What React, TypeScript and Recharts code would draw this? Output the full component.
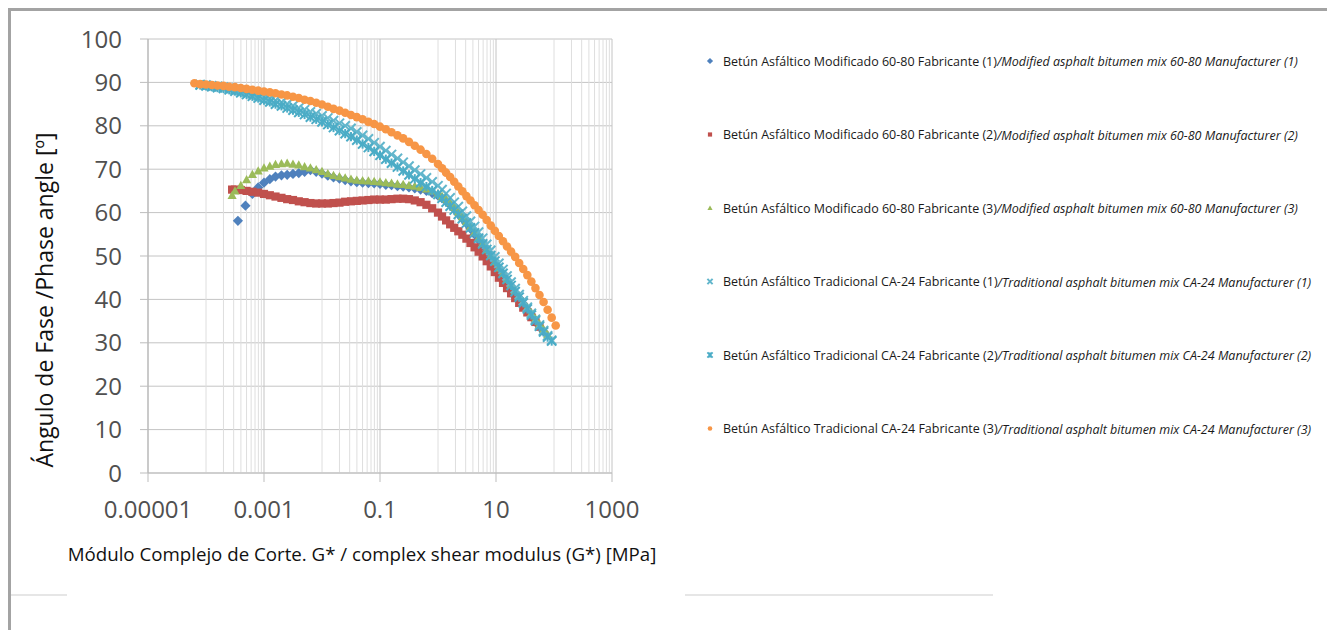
import React from "react";
import { CartesianGrid, ReferenceLine, Scatter, ScatterChart, XAxis, YAxis } from "recharts";

// [G* (MPa), phase angle (deg)]
const mod1 = [[3.55e-4,58.1],[4.79e-4,61.6],[6.31e-4,64.3],[7.94e-4,65.8],[1e-3,66.9],[1.26e-3,67.7],[1.58e-3,68.3],[2e-3,68.6],[2.51e-3,68.7],[3.16e-3,68.9],[3.98e-3,69.1],[5.01e-3,69.4],[6.31e-3,69.8],[7.94e-3,69.4],[0.01,69.0],[0.0126,68.5],[0.0158,68.1],[0.02,67.8],[0.0251,67.5],[0.0316,67.2],[0.0398,67.0],[0.0501,66.9],[0.0631,66.8],[0.0794,66.7],[0.1,66.6],[0.126,66.4],[0.158,66.3],[0.2,66.1],[0.251,66.0],[0.316,65.8],[0.398,65.6],[0.501,65.3],[0.631,65.0],[0.794,64.5],[1,63.9],[1.175,63.3],[1.38,62.6],[1.62,61.8],[1.905,60.8],[2.24,59.7],[2.63,58.6],[3.09,57.5],[3.63,56.3],[4.27,55.0],[5.01,53.7],[5.89,52.4],[6.92,51.0],[8.13,49.6],[9.55,48.2],[11.2,46.8],[13.2,45.5],[15.5,44.2],[18.2,42.9],[21.4,41.6],[25.1,40.3],[29.5,39.0],[34.7,37.7],[40.7,36.4],[47.9,35.1],[56.2,33.8],[66.1,32.6]];
const mod2 = [[2.82e-4,65.3],[3.16e-4,65.3],[3.98e-4,65.2],[5.01e-4,65.0],[6.31e-4,64.8],[7.94e-4,64.6],[1e-3,64.3],[1.26e-3,64.0],[1.58e-3,63.7],[2e-3,63.4],[2.51e-3,63.1],[3.16e-3,62.9],[3.98e-3,62.6],[5.01e-3,62.4],[6.31e-3,62.2],[7.94e-3,62.1],[0.01,62.1],[0.0126,62.1],[0.0158,62.2],[0.02,62.3],[0.0251,62.5],[0.0316,62.6],[0.0398,62.7],[0.0501,62.8],[0.0631,62.9],[0.0794,63.0],[0.1,63.0],[0.126,63.0],[0.158,63.1],[0.2,63.2],[0.251,63.2],[0.316,63.1],[0.398,62.8],[0.501,62.4],[0.631,61.8],[0.794,61.0],[1,60.0],[1.175,59.1],[1.38,58.2],[1.62,57.3],[1.905,56.5],[2.24,55.7],[2.63,54.9],[3.09,54.0],[3.63,53.0],[4.27,52.0],[5.01,51.0],[5.89,49.9],[6.92,48.8],[8.13,47.6],[9.55,46.3],[11.2,45.0],[13.2,43.8],[15.5,42.6],[18.2,41.4],[21.4,40.3],[25.1,39.2],[29.5,38.1],[34.7,37.0],[40.7,35.9],[47.9,34.8],[56.2,33.7]];
const mod3 = [[2.82e-4,64.0],[3.16e-4,65.0],[3.98e-4,66.3],[5.01e-4,67.6],[6.31e-4,68.8],[7.94e-4,69.6],[1e-3,70.3],[1.26e-3,70.7],[1.58e-3,71.1],[2e-3,71.3],[2.51e-3,71.4],[3.16e-3,71.2],[3.98e-3,71.0],[5.01e-3,70.6],[6.31e-3,70.3],[7.94e-3,69.9],[0.01,69.5],[0.0126,69.0],[0.0158,68.6],[0.02,68.3],[0.0251,68.0],[0.0316,67.7],[0.0398,67.5],[0.0501,67.4],[0.0631,67.3],[0.0794,67.2],[0.1,67.1],[0.126,66.9],[0.158,66.8],[0.2,66.6],[0.251,66.5],[0.316,66.3],[0.398,66.1],[0.501,65.8],[0.631,65.5],[0.794,65.0],[1,64.4],[1.175,63.8],[1.38,63.1],[1.62,62.3],[1.905,61.3],[2.24,60.2],[2.63,59.1],[3.09,58.0],[3.63,56.8],[4.27,55.5],[5.01,54.2],[5.89,52.9],[6.92,51.5],[8.13,50.1],[9.55,48.7],[11.2,47.3],[13.2,46.0],[15.5,44.7],[18.2,43.4],[21.4,42.1],[25.1,40.8],[29.5,39.5],[34.7,38.2],[40.7,36.9],[47.9,35.6],[56.2,34.3],[66.1,33.1],[77.6,31.9]];
const trad1 = [[7.94e-5,89.5],[1e-4,89.4],[1.26e-4,89.2],[1.58e-4,89.1],[2e-4,88.9],[2.51e-4,88.7],[3.16e-4,88.4],[3.98e-4,88.1],[5.01e-4,87.8],[6.31e-4,87.4],[7.94e-4,87.0],[1e-3,86.6],[1.26e-3,86.2],[1.58e-3,85.8],[2e-3,85.4],[2.51e-3,85.0],[3.16e-3,84.6],[3.98e-3,84.1],[5.01e-3,83.7],[6.31e-3,83.2],[7.94e-3,82.8],[0.01,82.3],[0.0126,81.8],[0.0158,81.2],[0.02,80.6],[0.0251,80.0],[0.0316,79.4],[0.0398,78.6],[0.0501,77.8],[0.0631,77.0],[0.0794,76.1],[0.1,75.2],[0.126,74.3],[0.158,73.4],[0.2,72.5],[0.251,71.6],[0.316,70.7],[0.398,69.8],[0.501,68.9],[0.631,68.0],[0.794,67.1],[1,66.2],[1.175,65.3],[1.38,64.4],[1.62,63.4],[1.905,62.4],[2.24,61.4],[2.63,60.3],[3.09,59.2],[3.63,58.0],[4.27,56.8],[5.01,55.5],[5.89,54.1],[6.92,52.7],[8.13,51.3],[9.55,49.8],[11.2,48.3],[13.2,46.9],[15.5,45.4],[18.2,44.0],[21.4,42.5],[25.1,41.1],[29.5,39.7],[34.7,38.2],[40.7,36.8],[47.9,35.4],[56.2,34.1],[66.1,32.8],[77.6,31.6],[91.2,30.6]];
const trad2 = [[7.94e-5,89.4],[1e-4,89.2],[1.26e-4,89.0],[1.58e-4,88.8],[2e-4,88.6],[2.51e-4,88.3],[3.16e-4,88.0],[3.98e-4,87.6],[5.01e-4,87.2],[6.31e-4,86.8],[7.94e-4,86.4],[1e-3,85.9],[1.26e-3,85.5],[1.58e-3,85.0],[2e-3,84.6],[2.51e-3,84.1],[3.16e-3,83.6],[3.98e-3,83.1],[5.01e-3,82.6],[6.31e-3,82.0],[7.94e-3,81.5],[0.01,80.9],[0.0126,80.3],[0.0158,79.6],[0.02,78.9],[0.0251,78.2],[0.0316,77.5],[0.0398,76.7],[0.0501,75.8],[0.0631,75.0],[0.0794,74.1],[0.1,73.2],[0.126,72.3],[0.158,71.4],[0.2,70.5],[0.251,69.6],[0.316,68.7],[0.398,67.8],[0.501,66.9],[0.631,66.0],[0.794,65.1],[1,64.2],[1.175,63.3],[1.38,62.4],[1.62,61.5],[1.905,60.6],[2.24,59.6],[2.63,58.6],[3.09,57.6],[3.63,56.5],[4.27,55.3],[5.01,54.1],[5.89,52.8],[6.92,51.5],[8.13,50.1],[9.55,48.8],[11.2,47.4],[13.2,46.0],[15.5,44.6],[18.2,43.2],[21.4,41.8],[25.1,40.5],[29.5,39.2],[34.7,37.8],[40.7,36.4],[47.9,35.1],[56.2,33.8],[66.1,32.5],[77.6,31.3],[91.2,30.4]];
const trad3 = [[6.31e-5,89.8],[7.94e-5,89.6],[1e-4,89.5],[1.26e-4,89.4],[1.58e-4,89.3],[2e-4,89.2],[2.51e-4,89.0],[3.16e-4,88.9],[3.98e-4,88.7],[5.01e-4,88.5],[6.31e-4,88.3],[7.94e-4,88.1],[1e-3,87.9],[1.26e-3,87.7],[1.58e-3,87.5],[2e-3,87.2],[2.51e-3,87.0],[3.16e-3,86.7],[3.98e-3,86.4],[5.01e-3,86.0],[6.31e-3,85.7],[7.94e-3,85.3],[0.01,84.9],[0.0126,84.4],[0.0158,83.9],[0.02,83.5],[0.0251,83.0],[0.0316,82.5],[0.0398,82.0],[0.0501,81.5],[0.0631,80.9],[0.0794,80.4],[0.1,79.8],[0.126,79.2],[0.158,78.5],[0.2,77.8],[0.251,77.1],[0.316,76.3],[0.398,75.4],[0.501,74.5],[0.631,73.5],[0.794,72.4],[1,71.2],[1.175,70.2],[1.38,69.2],[1.62,68.2],[1.905,67.1],[2.24,66.0],[2.63,64.9],[3.09,63.8],[3.63,62.8],[4.27,61.7],[5.01,60.6],[5.89,59.5],[6.92,58.3],[8.13,57.0],[9.55,55.8],[11.2,54.6],[13.2,53.4],[15.5,52.2],[18.2,51.0],[21.4,49.8],[25.1,48.4],[29.5,47.0],[34.7,45.6],[40.7,44.1],[47.9,42.6],[56.2,41.0],[66.1,39.4],[77.6,37.6],[91.2,35.8],[107,34.0]];

const xTicks = [1e-5, 1e-3, 0.1, 10, 1000];
const xTickLabels = ["0.00001", "0.001", "0.1", "10", "1000"];
const yTicks = [0, 10, 20, 30, 40, 50, 60, 70, 80, 90, 100];
const minorX = [
  1e-4, 2e-4, 3e-4, 4e-4, 5e-4, 6e-4, 7e-4, 8e-4, 9e-4,
  0.01, 0.02, 0.03, 0.04, 0.05, 0.06, 0.07, 0.08, 0.09,
  1, 2, 3, 4, 5, 6, 7, 8, 9,
  100, 200, 300, 400, 500, 600, 700, 800, 900,
];

const series = [
  { es: "Betún Asfáltico Modificado 60-80 Fabricante (1)", en: "/Modified asphalt bitumen mix 60-80 Manufacturer (1)", color: "#4f81bd", shape: "diamond", data: mod1 },
  { es: "Betún Asfáltico Modificado 60-80 Fabricante (2)", en: "/Modified asphalt bitumen mix 60-80 Manufacturer (2)", color: "#c0504d", shape: "square", data: mod2 },
  { es: "Betún Asfáltico Modificado 60-80 Fabricante (3)", en: "/Modified asphalt bitumen mix 60-80 Manufacturer (3)", color: "#9bbb59", shape: "triangle", data: mod3 },
  { es: "Betún Asfáltico Tradicional CA-24 Fabricante (1)", en: "/Traditional asphalt bitumen mix CA-24 Manufacturer (1)", color: "#62b6cc", shape: "x", data: trad1 },
  { es: "Betún Asfáltico Tradicional CA-24 Fabricante (2)", en: "/Traditional asphalt bitumen mix CA-24 Manufacturer (2)", color: "#4bacc6", shape: "star", data: trad2 },
  { es: "Betún Asfáltico Tradicional CA-24 Fabricante (3)", en: "/Traditional asphalt bitumen mix CA-24 Manufacturer (3)", color: "#f79646", shape: "circle", data: trad3 },
];

const FONT = "'Open Sans', sans-serif";
const TICK_COLOR = "#505050";

function Marker({ cx, cy, shape, color, r = 4.6 }: { cx: number; cy: number; shape: string; color: string; r?: number }) {
  if (cx == null || cy == null) return null;
  switch (shape) {
    case "diamond":
      return <polygon points={`${cx},${cy - r - 0.5} ${cx + r + 0.5},${cy} ${cx},${cy + r + 0.5} ${cx - r - 0.5},${cy}`} fill={color} />;
    case "square":
      return <rect x={cx - r + 0.5} y={cy - r + 0.5} width={2 * r - 1} height={2 * r - 1} fill={color} />;
    case "triangle":
      return <polygon points={`${cx},${cy - r} ${cx + r},${cy + r * 0.8} ${cx - r},${cy + r * 0.8}`} fill={color} />;
    case "x":
      return (
        <g stroke={color} strokeWidth={2}>
          <line x1={cx - r} y1={cy - r} x2={cx + r} y2={cy + r} />
          <line x1={cx - r} y1={cy + r} x2={cx + r} y2={cy - r} />
        </g>
      );
    case "star":
      return (
        <g stroke={color} strokeWidth={2}>
          <line x1={cx - r} y1={cy - r} x2={cx + r} y2={cy + r} />
          <line x1={cx - r} y1={cy + r} x2={cx + r} y2={cy - r} />
          <line x1={cx} y1={cy - r} x2={cx} y2={cy + r} />
        </g>
      );
    default:
      return <circle cx={cx} cy={cy} r={r - 0.3} fill={color} />;
  }
}

export default function App() {
  const W = 1327;
  const H = 630;
  return (
    <div style={{ position: "absolute", left: 0, top: 0, width: W, height: H, background: "#fff", overflow: "hidden", fontFamily: FONT }}>
      {/* page frame */}
      <div style={{ position: "absolute", left: 8, top: 8, width: W - 8, height: 3, background: "#a3a3a3" }} />
      <div style={{ position: "absolute", left: 8, top: 8, width: 3, height: H - 8, background: "#a3a3a3" }} />
      <div style={{ position: "absolute", left: 11, top: 594, width: 56, height: 2, background: "#e6e6e6" }} />
      <div style={{ position: "absolute", left: 685, top: 594, width: 308, height: 2, background: "#e6e6e6" }} />

      <ScatterChart width={W} height={H} margin={{ top: 39, right: W - 612, bottom: 117, left: 88 }} style={{ position: "absolute", left: 0, top: 0 }}>
        <CartesianGrid stroke="#c4c4c4" />
        {minorX.map((v) => (
          <ReferenceLine key={v} x={v} stroke="#dedede" strokeWidth={1} />
        ))}
        <XAxis
          type="number"
          dataKey="x"
          scale="log"
          domain={[1e-5, 1000]}
          allowDataOverflow
          ticks={xTicks}
          interval={0}
          height={40}
          tickFormatter={(v) => xTickLabels[xTicks.indexOf(v)]}
          tick={{ fill: TICK_COLOR, fontSize: 24, fontFamily: FONT }}
          tickSize={9}
          tickMargin={19}
          axisLine={{ stroke: "#bdbdbd" }}
          tickLine={{ stroke: "#bdbdbd" }}
        />
        <YAxis
          type="number"
          dataKey="y"
          domain={[0, 100]}
          ticks={yTicks}
          interval={0}
          width={60}
          tick={{ fill: TICK_COLOR, fontSize: 24, fontFamily: FONT }}
          tickSize={8}
          tickMargin={18}
          axisLine={{ stroke: "#b3b3b3" }}
          tickLine={{ stroke: "#bdbdbd" }}
        />
        {series.map((s) => (
          <Scatter
            key={s.es}
            name={s.es}
            data={s.data.map(([x, y]) => ({ x, y }))}
            isAnimationActive={false}
            shape={(p: any) => <Marker cx={p.cx} cy={p.cy} shape={s.shape} color={s.color} />}
          />
        ))}
      </ScatterChart>

      <svg width={W} height={H} style={{ position: "absolute", left: 0, top: 0, pointerEvents: "none" }}>
        <text x={362} y={553} textAnchor="middle" dominantBaseline="central" fontSize={18.7} fill="#111" fontFamily={FONT}>
          Módulo Complejo de Corte. G* / complex shear modulus (G*) [MPa]
        </text>
        <text transform="translate(44,300) rotate(-90)" textAnchor="middle" dominantBaseline="central" fontSize={23} fill="#111" fontFamily={FONT}>
          Ángulo de Fase /Phase angle [º]
        </text>
        {series.map((s, i) => {
          const y = 61 + i * 73.5;
          return (
            <g key={s.es}>
              <Marker cx={710} cy={y} shape={s.shape} color={s.color} r={2.6} />
              <text x={723} y={y} dominantBaseline="central" fontSize={12.5} fill="#1a1a1a" fontFamily={FONT}>
                {s.es}
                <tspan fontStyle="italic">{s.en}</tspan>
              </text>
            </g>
          );
        })}
      </svg>
    </div>
  );
}
